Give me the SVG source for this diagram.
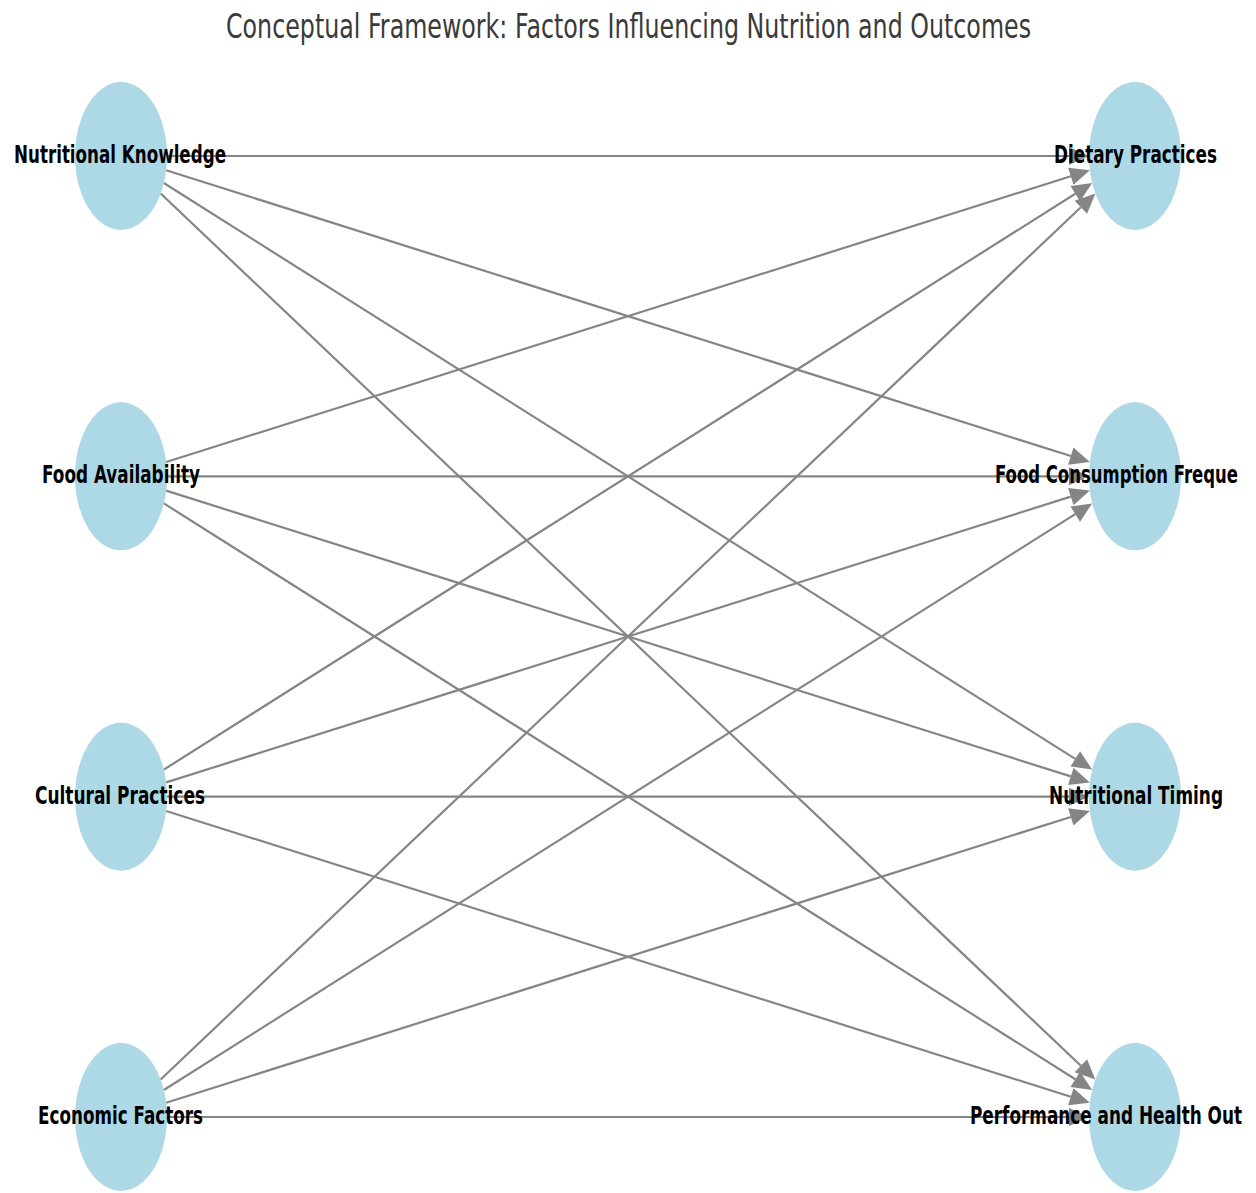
<svg xmlns="http://www.w3.org/2000/svg" width="1256" height="1193" viewBox="0 0 1256 1193">
<style>
.node{fill:#ADD8E6;}
.lbl{font-family:"DejaVu Sans","Liberation Sans",sans-serif;font-weight:bold;font-size:25px;fill:#000;}
.title{font-family:"DejaVu Sans","Liberation Sans",sans-serif;font-size:34px;fill:#3a3a3a;}
.edge{stroke:#858585;stroke-width:2.2;fill:none;marker-end:url(#arr);}
</style>
<defs>
<marker id="arr" markerUnits="userSpaceOnUse" markerWidth="22" markerHeight="20" refX="0" refY="9" orient="auto" viewBox="0 0 22 18" overflow="visible">
<path d="M0,0 L20,9 L0,18 z" fill="#858585"/>
</marker>
</defs>
<rect width="1256" height="1193" fill="#ffffff"/>
<text class="title" x="628.5" y="38" text-anchor="middle" textLength="805" lengthAdjust="spacingAndGlyphs">Conceptual Framework: Factors Influencing Nutrition and Outcomes</text>
<g id="connectors">
<line class="edge" x1="167" y1="156" x2="1069" y2="156"/>
<line class="edge" x1="166.14" y1="170.26" x2="1070.79" y2="456.05"/>
<line class="edge" x1="163.82" y1="183.05" x2="1075.27" y2="758.94"/>
<line class="edge" x1="160.63" y1="193.56" x2="1080.85" y2="1065.68"/>
<line class="edge" x1="166.14" y1="462.07" x2="1070.79" y2="176.28"/>
<line class="edge" x1="167" y1="476.33" x2="1069" y2="476.33"/>
<line class="edge" x1="166.14" y1="490.59" x2="1070.79" y2="776.39"/>
<line class="edge" x1="163.82" y1="503.38" x2="1075.27" y2="1079.27"/>
<line class="edge" x1="163.82" y1="769.62" x2="1075.27" y2="193.73"/>
<line class="edge" x1="166.14" y1="782.41" x2="1070.79" y2="496.61"/>
<line class="edge" x1="167" y1="796.67" x2="1069" y2="796.67"/>
<line class="edge" x1="166.14" y1="810.93" x2="1070.79" y2="1096.72"/>
<line class="edge" x1="160.63" y1="1079.44" x2="1080.85" y2="207.32"/>
<line class="edge" x1="163.82" y1="1089.95" x2="1075.27" y2="514.06"/>
<line class="edge" x1="166.14" y1="1102.74" x2="1070.79" y2="816.95"/>
<line class="edge" x1="167" y1="1117" x2="1069" y2="1117"/>
</g>
<g id="node-nutritional-knowledge">
<ellipse class="node" cx="121" cy="156" rx="46" ry="74"/>
<text class="lbl" x="120" y="163" text-anchor="middle" textLength="212" lengthAdjust="spacingAndGlyphs">Nutritional Knowledge</text>
</g>
<g id="node-food-availability">
<ellipse class="node" cx="121" cy="476.33" rx="46" ry="74"/>
<text class="lbl" x="121" y="483" text-anchor="middle" textLength="158" lengthAdjust="spacingAndGlyphs">Food Availability</text>
</g>
<g id="node-cultural-practices">
<ellipse class="node" cx="121" cy="796.67" rx="46" ry="74"/>
<text class="lbl" x="120" y="803.5" text-anchor="middle" textLength="170" lengthAdjust="spacingAndGlyphs">Cultural Practices</text>
</g>
<g id="node-economic-factors">
<ellipse class="node" cx="121" cy="1117" rx="46" ry="74"/>
<text class="lbl" x="120.5" y="1124" text-anchor="middle" textLength="165" lengthAdjust="spacingAndGlyphs">Economic Factors</text>
</g>
<g id="node-dietary-practices">
<ellipse class="node" cx="1135" cy="156" rx="46" ry="74"/>
<text class="lbl" x="1135.5" y="163" text-anchor="middle" textLength="163" lengthAdjust="spacingAndGlyphs">Dietary Practices</text>
</g>
<g id="node-food-consumption">
<ellipse class="node" cx="1135" cy="476.33" rx="46" ry="74"/>
<text class="lbl" x="995" y="483" textLength="243" lengthAdjust="spacingAndGlyphs">Food Consumption Freque</text>
</g>
<g id="node-nutritional-timing">
<ellipse class="node" cx="1135" cy="796.67" rx="46" ry="74"/>
<text class="lbl" x="1136" y="803.5" text-anchor="middle" textLength="174" lengthAdjust="spacingAndGlyphs">Nutritional Timing</text>
</g>
<g id="node-performance-health">
<ellipse class="node" cx="1135" cy="1117" rx="46" ry="74"/>
<text class="lbl" x="970" y="1124" textLength="272" lengthAdjust="spacingAndGlyphs">Performance and Health Out</text>
</g>
</svg>
